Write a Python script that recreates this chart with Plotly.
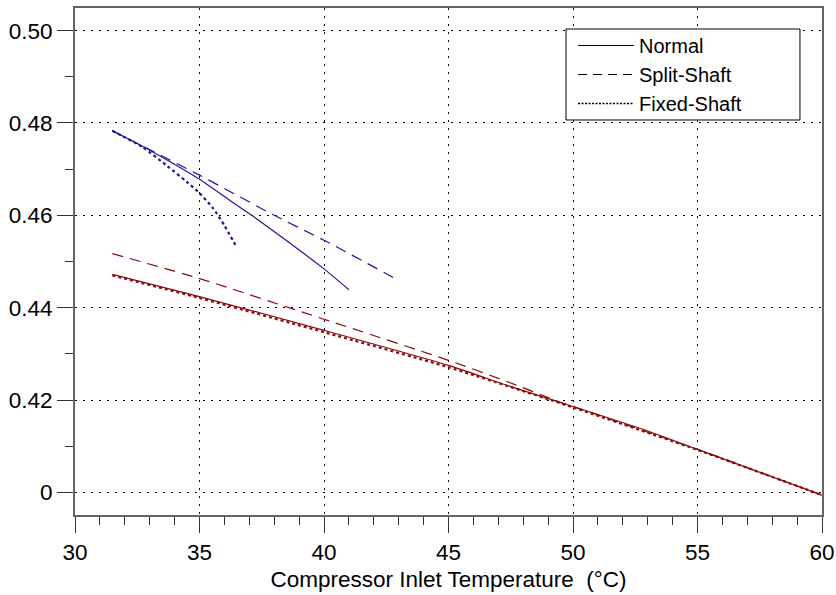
import plotly.graph_objects as go

# ---- data ----
blue_normal_x = [31.5, 33, 35, 36.2, 37.1, 38.2, 39, 40, 41]
blue_normal_y = [0.4783, 0.4741, 0.4678, 0.4633, 0.4600, 0.4557, 0.4525, 0.4484, 0.4439]

blue_split_x = [31.5, 35, 38, 40, 43]
blue_split_y = [0.4783, 0.4687, 0.4600, 0.4546, 0.4459]

blue_fixed_x = [31.5, 32.7, 33.7, 34.5, 35.0, 35.55, 36.0, 36.5]
blue_fixed_y = [0.4783, 0.4748, 0.4707, 0.4672, 0.4648, 0.4615, 0.4578, 0.4530]

red_normal_x = [31.5, 35, 40, 45, 47.5, 50, 53, 55, 60]
red_normal_y = [0.4472, 0.4424, 0.4351, 0.4275, 0.4229, 0.4186, 0.4133, 0.4093, 0.3994]

red_split_x = [31.5, 35, 40, 45, 47.5, 49.5, 50, 55, 60]
red_split_y = [0.4517, 0.4463, 0.4375, 0.4286, 0.4237, 0.4195, 0.4186, 0.4093, 0.3994]

red_fixed_x = [31.5, 35, 40, 45, 50, 55, 60]
red_fixed_y = [0.4470, 0.4421, 0.4347, 0.4271, 0.4184, 0.4092, 0.3994]

legend_names = ["Normal", "Split-Shaft", "Fixed-Shaft"]

x_ticks = [30, 35, 40, 45, 50, 55, 60]
y_tickvals = [0.40, 0.42, 0.44, 0.46, 0.48, 0.50]
y_ticktext = ["0", "0.42", "0.44", "0.46", "0.48", "0.50"]

x_title = "Compressor Inlet Temperature  (°C)"

BLUE = "#1a1a96"
RED = "#8b0a0a"
FONT = "Liberation Sans, Arial, Helvetica, sans-serif"
FS = 22.5

styles = {
    "Normal": dict(dash="solid", width=1.2),
    "Split-Shaft": dict(dash="11px,7px", width=1.2),
    "Fixed-Shaft": dict(dash="dot", width=2.2),
}

fig = go.Figure()

series = [
    (blue_normal_x, blue_normal_y, BLUE, "Normal"),
    (blue_split_x, blue_split_y, BLUE, "Split-Shaft"),
    (blue_fixed_x, blue_fixed_y, BLUE, "Fixed-Shaft"),
    (red_normal_x, red_normal_y, RED, "Normal"),
    (red_split_x, red_split_y, RED, "Split-Shaft"),
    (red_fixed_x, red_fixed_y, RED, "Fixed-Shaft"),
]
for xs, ys, col, kind in series:
    st = styles[kind]
    fig.add_trace(go.Scatter(
        x=xs, y=ys, mode="lines", showlegend=False,
        line=dict(color=col, width=st["width"], dash=st["dash"], shape="spline", smoothing=0.6),
        hoverinfo="skip",
    ))

# legend entries (black samples)
legend_dash = {"Normal": "solid", "Split-Shaft": "9px,6px", "Fixed-Shaft": "2px,1.5px"}
legend_width = {"Normal": 1.2, "Split-Shaft": 1.2, "Fixed-Shaft": 1.6}
for name in legend_names:
    fig.add_trace(go.Scatter(
        x=[None], y=[None], mode="lines", name=name,
        line=dict(color="black", width=legend_width[name], dash=legend_dash[name]),
    ))

axis_common = dict(
    showline=True, linecolor="#666666", linewidth=2, mirror=True,
    ticks="outside", tickcolor="#333333", tickwidth=1, ticklen=16,
    showgrid=True, gridcolor="black", gridwidth=1, griddash="2px,6px",
    zeroline=False, automargin=False,
    tickfont=dict(family=FONT, size=FS, color="black"),
)

fig.update_xaxes(
    range=[30, 60], tickvals=x_ticks,
    minor=dict(dtick=1, ticks="outside", ticklen=8, tickcolor="#333333", showgrid=False),
    title=dict(text=x_title, font=dict(family=FONT, size=FS, color="black"), standoff=7),
    ticklabelstandoff=0,
    **axis_common,
)
fig.update_yaxes(
    range=[0.3951, 0.5049], tickvals=y_tickvals, ticktext=y_ticktext,
    minor=dict(dtick=0.01, ticks="outside", ticklen=8, tickcolor="#333333", showgrid=False),
    **axis_common,
)

# legend frame (white box over the grid)
fig.add_shape(
    type="rect", xref="paper", yref="paper",
    x0=0.6573, x1=0.9705, y0=0.7791, y1=0.9586,
    line=dict(color="black", width=1), fillcolor="white", layer="above",
)

fig.update_layout(
    width=836, height=595,
    margin=dict(l=75, r=14, t=8, b=80),
    paper_bgcolor="white", plot_bgcolor="white",
    font=dict(family=FONT, size=FS, color="black"),
    legend=dict(
        x=0.6667, y=0.9645, xanchor="left", yanchor="top",
        bgcolor="rgba(0,0,0,0)", borderwidth=0,
        font=dict(family=FONT, size=20, color="black"),
        itemwidth=56, tracegroupgap=0,
    ),
)

fig.write_html(
    "out.html",
    config={"displayModeBar": False},
    post_script="document.body.style.margin='0';document.body.style.overflow='hidden';",
)
